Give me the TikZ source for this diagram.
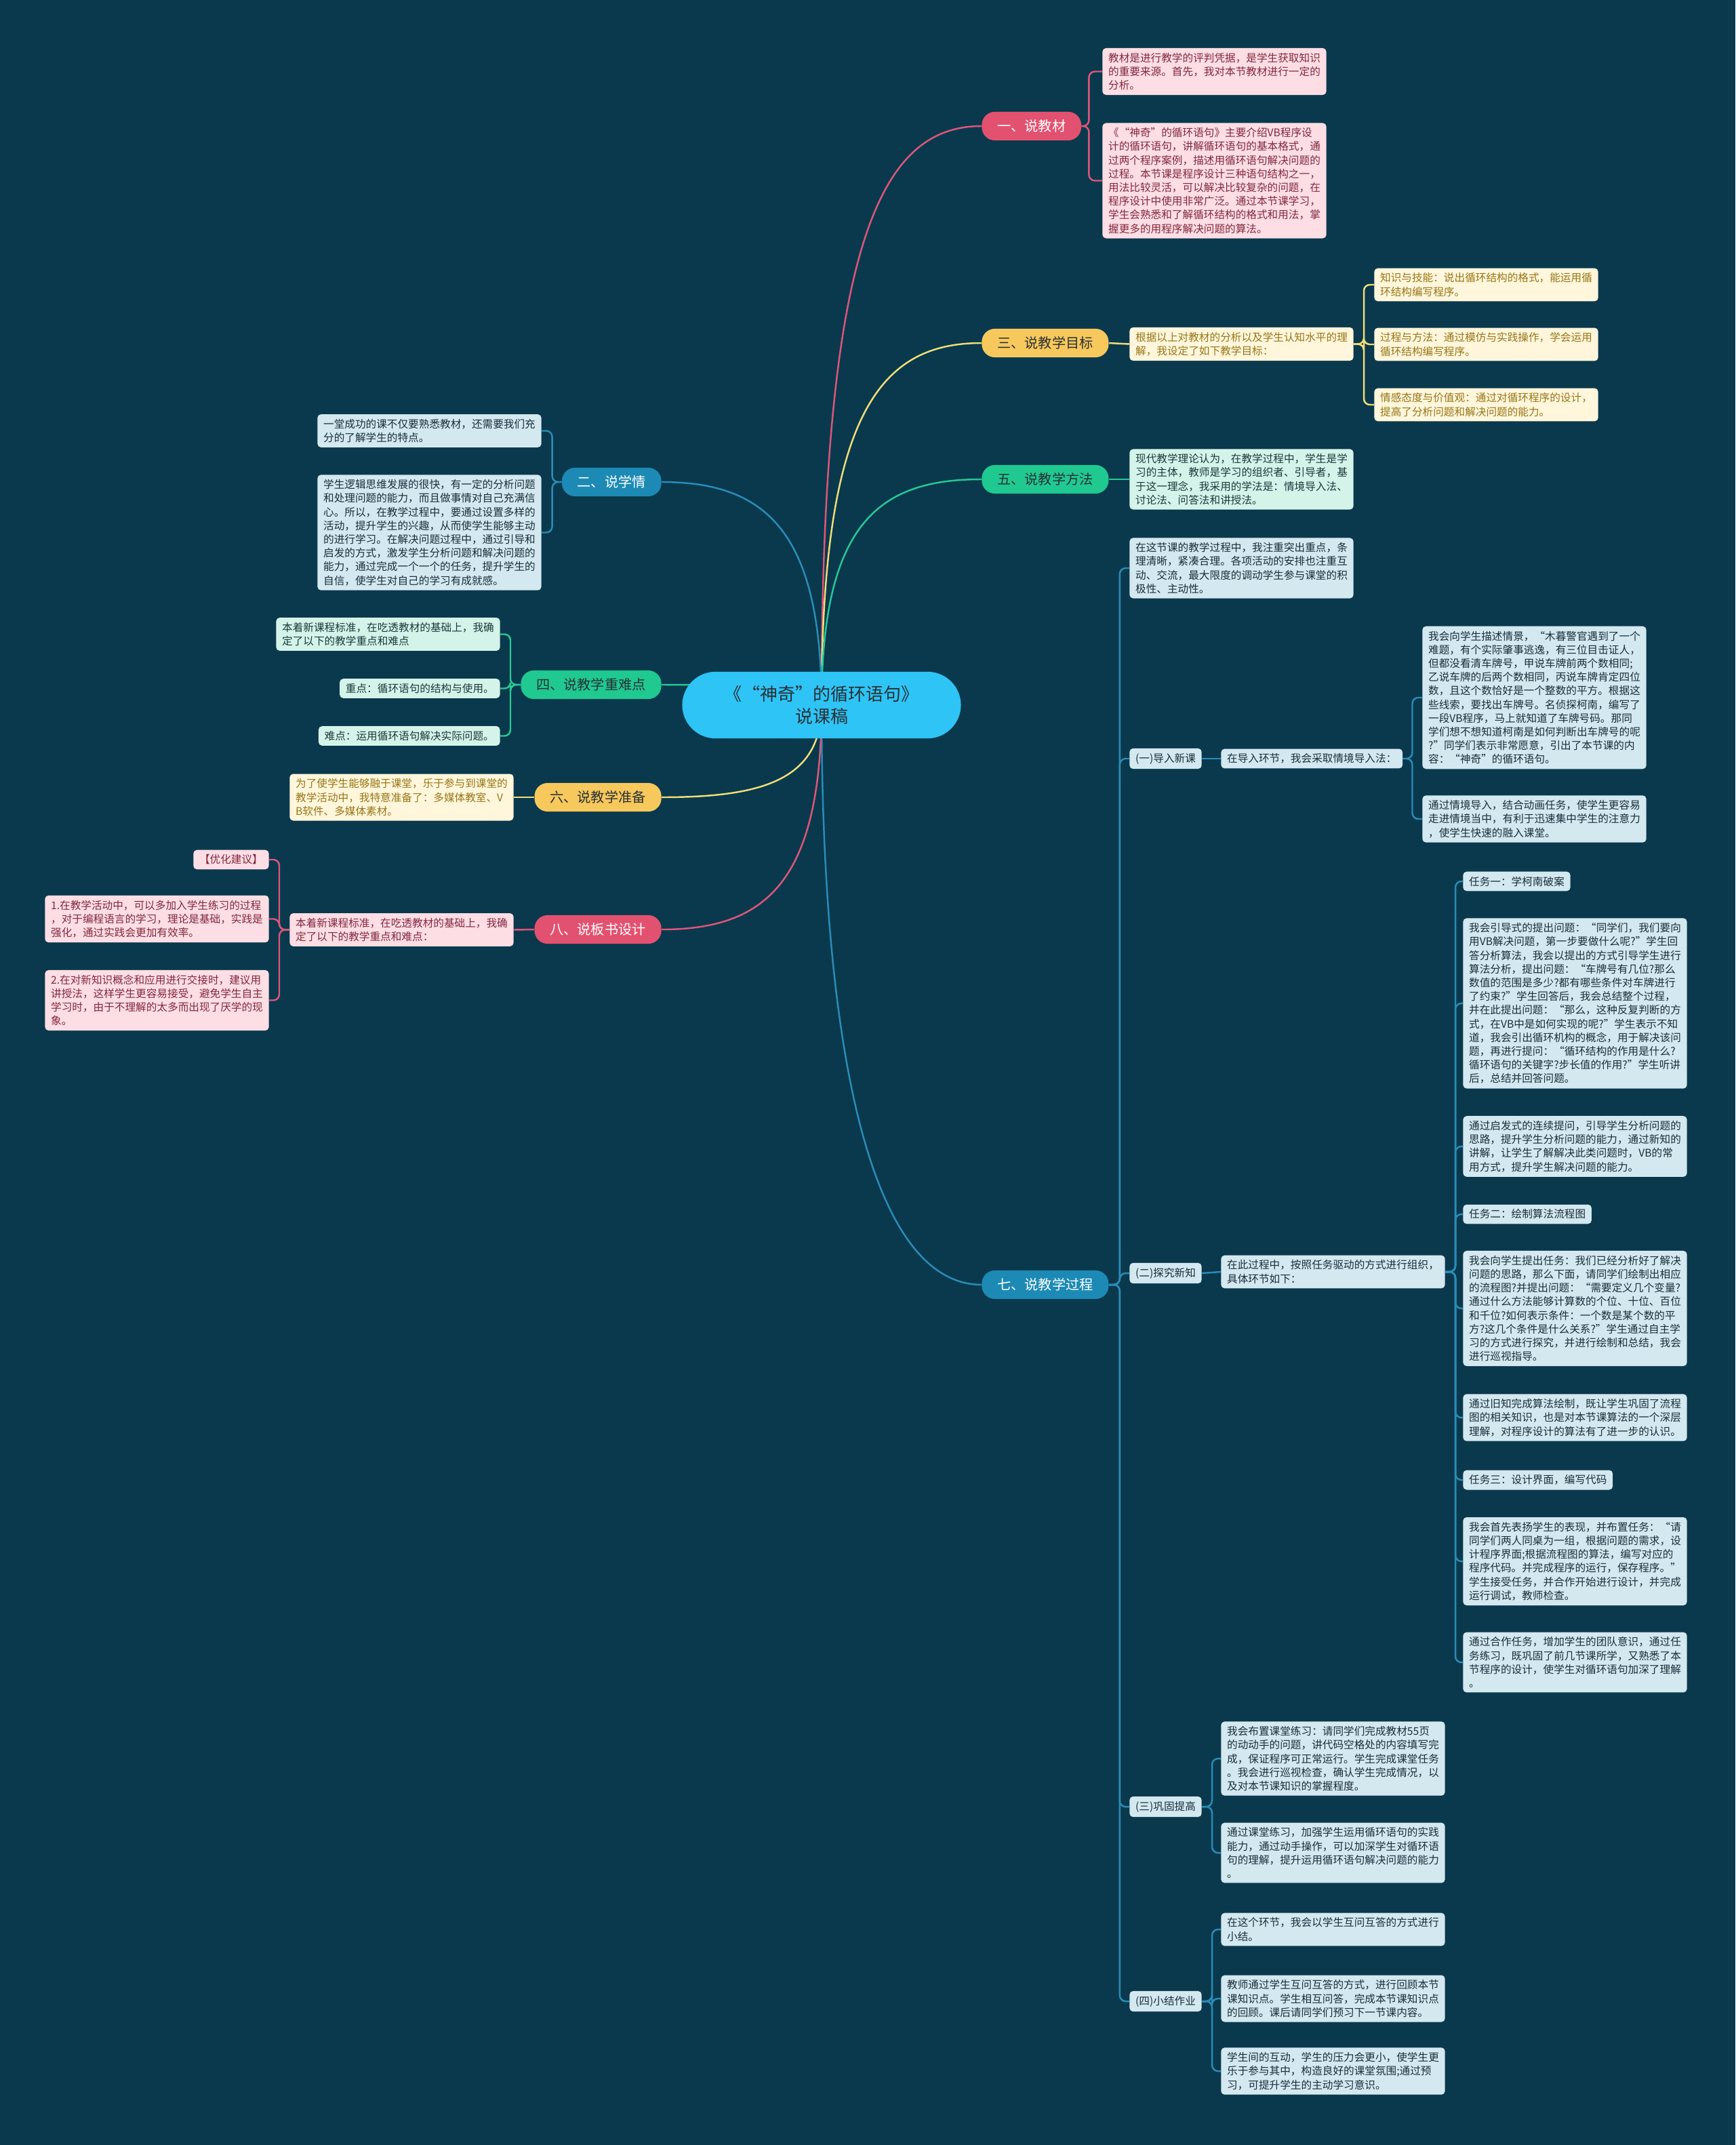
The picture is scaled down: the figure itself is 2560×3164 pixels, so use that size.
\documentclass[tikz,border=0pt]{standalone}
\usepackage{fontspec}
\newfontfamily\cjk{Noto Sans CJK SC}
\usepackage{xcolor}
\usepackage{tikz}
\usetikzlibrary{positioning}

\definecolor{bgblue}{RGB}{10,57,77}
\definecolor{hubcyan}{RGB}{46,196,245}
\definecolor{rosered}{RGB}{226,82,112}
\definecolor{sunyellow}{RGB}{247,200,92}
\definecolor{mintgreen}{RGB}{32,201,143}
\definecolor{seablue}{RGB}{28,138,181}
\definecolor{roseline}{RGB}{222,86,122}
\definecolor{sunline}{RGB}{240,222,120}
\definecolor{mintline}{RGB}{38,200,150}
\definecolor{sealine}{RGB}{42,140,184}
\definecolor{rosefill}{RGB}{252,222,228}
\definecolor{rosetext}{RGB}{130,40,62}
\definecolor{sunfill}{RGB}{255,246,220}
\definecolor{suntext}{RGB}{150,118,22}
\definecolor{mintfill}{RGB}{212,244,234}
\definecolor{minttext}{RGB}{28,56,58}
\definecolor{seafill}{RGB}{212,232,240}
\definecolor{seatext}{RGB}{26,46,58}
\definecolor{darktext}{RGB}{40,48,54}

\tikzset{
    hubnode/.style={fill=hubcyan, text=darktext, rounded corners=28pt, minimum width=234pt,
        minimum height=56pt, align=center, font=\cjk\fontsize{14.8}{18.8}\selectfont},
    branchnode/.style={rounded corners=11pt, minimum height=24pt, inner xsep=13pt,
        font=\cjk\fontsize{11.5}{14}\selectfont},
    leafbox/.style={rounded corners=3pt, inner xsep=5pt, inner ysep=4pt, align=left,
        font=\cjk\fontsize{8.9}{11.5}\selectfont},
    roseleaf/.style={leafbox, fill=rosefill, text=rosetext},
    sunleaf/.style={leafbox, fill=sunfill, text=suntext},
    mintleaf/.style={leafbox, fill=mintfill, text=minttext},
    sealeaf/.style={leafbox, fill=seafill, text=seatext},
    linkline/.style={line width=1.4pt, rounded corners=5pt},
}

\begin{document}
\begin{tikzpicture}[x=0.02cm, y=-0.02cm]
    % Background
    \fill[bgblue] (0,0) rectangle (2560,3164);
    \useasboundingbox (0,0) rectangle (2560,3164);
    \coordinate (hub) at (1212,1040);

    % Main branches, right
    \node[branchnode, fill=rosered, text=white, anchor=west] (b1) at (1448,186) {一、说教材};
    \node[branchnode, fill=sunyellow, text=darktext, anchor=west] (b3) at (1448,506) {三、说教学目标};
    \node[branchnode, fill=mintgreen, text=darktext, anchor=west] (b5) at (1448,707) {五、说教学方法};
    \node[branchnode, fill=seablue, text=white, anchor=west] (b7) at (1448,1895) {七、说教学过程};
    % Main branches, left
    \node[branchnode, fill=seablue, text=white, anchor=east] (b2) at (976,711) {二、说学情};
    \node[branchnode, fill=mintgreen, text=darktext, anchor=east] (b4) at (976,1010) {四、说教学重难点};
    \node[branchnode, fill=sunyellow, text=darktext, anchor=east] (b6) at (976,1176) {六、说教学准备};
    \node[branchnode, fill=rosered, text=white, anchor=east] (b8) at (976,1371) {八、说板书设计};

    % Curves from the hub
    \draw[roseline, line width=1.4pt] (hub) .. controls +(0,-680) and +(-150,0) .. (b1.west);
    \draw[sunline, line width=1.4pt] (hub) .. controls +(0,-430) and +(-150,0) .. (b3.west);
    \draw[mintline, line width=1.4pt] (hub) .. controls +(0,-270) and +(-150,0) .. (b5.west);
    \draw[sealine, line width=1.4pt] (hub) .. controls +(0,560) and +(-150,0) .. (b7.west);
    \draw[sealine, line width=1.4pt] (hub) .. controls +(0,-260) and +(150,0) .. (b2.east);
    \draw[mintline, line width=1.4pt] (hub) .. controls +(0,-20) and +(150,0) .. (b4.east);
    \draw[sunline, line width=1.4pt] (hub) .. controls +(0,110) and +(150,0) .. (b6.east);
    \draw[roseline, line width=1.4pt] (hub) .. controls +(0,265) and +(150,0) .. (b8.east);

    % Title
    \node[hubnode] (cen) at (hub) {《“神奇”的循环语句》\\说课稿};

    % 一
    \node[roseleaf, anchor=west] (a1) at (1626,105.5) {教材是进行教学的评判凭据，是学生获取知识\\的重要来源。首先，我对本节教材进行一定的\\分析。};
    \node[roseleaf, anchor=west] (a2) at (1626,266.5) {《“神奇”的循环语句》主要介绍VB程序设\\计的循环语句，讲解循环语句的基本格式，通\\过两个程序案例，描述用循环语句解决问题的\\过程。本节课是程序设计三种语句结构之一，\\用法比较灵活，可以解决比较复杂的问题，在\\程序设计中使用非常广泛。通过本节课学习，\\学生会熟悉和了解循环结构的格式和用法，掌\\握更多的用程序解决问题的算法。};
    \foreach \c in {a1,a2}
        \draw[linkline, roseline] (b1.east) -- ++(11,0) |- (\c.west);

    % 三
    \node[sunleaf, anchor=west] (m3) at (1666,507.5) {根据以上对教材的分析以及学生认知水平的理\\解，我设定了如下教学目标：};
    \node[sunleaf, anchor=west] (c1) at (2027,420) {知识与技能：说出循环结构的格式，能运用循\\环结构编写程序。};
    \node[sunleaf, anchor=west] (c2) at (2027,508) {过程与方法：通过模仿与实践操作，学会运用\\循环结构编写程序。};
    \node[sunleaf, anchor=west] (c3) at (2027,597) {情感态度与价值观：通过对循环程序的设计，\\提高了分析问题和解决问题的能力。};
    \draw[linkline, sunline] (b3.east) -- (m3.west);
    \foreach \c in {c1,c2,c3}
        \draw[linkline, sunline] (m3.east) -- ++(15,0) |- (\c.west);

    % 五
    \node[mintleaf, anchor=west] (d1) at (1666,707) {现代教学理论认为，在教学过程中，学生是学\\习的主体，教师是学习的组织者、引导者，基\\于这一理念，我采用的学法是：情境导入法、\\讨论法、问答法和讲授法。};
    \draw[linkline, mintline] (b5.east) -- (d1.west);

    % 七
    \node[sealeaf, anchor=west] (p1) at (1666,838) {在这节课的教学过程中，我注重突出重点，条\\理清晰，紧凑合理。各项活动的安排也注重互\\动、交流，最大限度的调动学生参与课堂的积\\极性、主动性。};
    \node[sealeaf, anchor=west] (p2) at (1666,1119) {(一)导入新课};
    \node[sealeaf, anchor=west] (p3) at (1666,1878) {(二)探究新知};
    \node[sealeaf, anchor=west] (p4) at (1666,2665) {(三)巩固提高};
    \node[sealeaf, anchor=west] (p5) at (1666,2952) {(四)小结作业};
    \foreach \c in {p1,p2,p3,p4,p5}
        \draw[linkline, sealine] (b7.east) -- ++(16,0) |- (\c.west);

    % (一)导入新课
    \node[sealeaf, anchor=west] (q2) at (1801,1119) {在导入环节，我会采取情境导入法：};
    \node[sealeaf, anchor=west] (r1) at (2098,1029) {我会向学生描述情景，“木暮警官遇到了一个\\难题，有个实际肇事逃逸，有三位目击证人，\\但都没看清车牌号，甲说车牌前两个数相同;\\乙说车牌的后两个数相同，丙说车牌肯定四位\\数，且这个数恰好是一个整数的平方。根据这\\些线索，要找出车牌号。名侦探柯南，编写了\\一段VB程序，马上就知道了车牌号码。那同\\学们想不想知道柯南是如何判断出车牌号的呢\\?”同学们表示非常愿意，引出了本节课的内\\容：“神奇”的循环语句。};
    \node[sealeaf, anchor=west] (r2) at (2098,1208) {通过情境导入，结合动画任务，使学生更容易\\走进情境当中，有利于迅速集中学生的注意力\\，使学生快速的融入课堂。};
    \draw[linkline, sealine] (p2.east) -- (q2.west);
    \foreach \c in {r1,r2}
        \draw[linkline, sealine] (q2.east) -- ++(14,0) |- (\c.west);

    % (二)探究新知
    \node[sealeaf, anchor=west] (q3) at (1801,1876) {在此过程中，按照任务驱动的方式进行组织，\\具体环节如下：};
    \node[sealeaf, anchor=west] (u1) at (2158,1300) {任务一：学柯南破案};
    \node[sealeaf, anchor=west] (u2) at (2158,1480) {我会引导式的提出问题：“同学们，我们要向\\用VB解决问题，第一步要做什么呢?”学生回\\答分析算法，我会以提出的方式引导学生进行\\算法分析，提出问题：“车牌号有几位?那么\\数值的范围是多少?都有哪些条件对车牌进行\\了约束?”学生回答后，我会总结整个过程，\\并在此提出问题：“那么，这种反复判断的方\\式，在VB中是如何实现的呢?”学生表示不知\\道，我会引出循环机构的概念，用于解决该问\\题，再进行提问：“循环结构的作用是什么?\\循环语句的关键字?步长值的作用?”学生听讲\\后，总结并回答问题。};
    \node[sealeaf, anchor=west] (u3) at (2158,1691) {通过启发式的连续提问，引导学生分析问题的\\思路，提升学生分析问题的能力，通过新知的\\讲解，让学生了解解决此类问题时，VB的常\\用方式，提升学生解决问题的能力。};
    \node[sealeaf, anchor=west] (u4) at (2158,1791) {任务二：绘制算法流程图};
    \node[sealeaf, anchor=west] (u5) at (2158,1930) {我会向学生提出任务：我们已经分析好了解决\\问题的思路，那么下面，请同学们绘制出相应\\的流程图?并提出问题：“需要定义几个变量?\\通过什么方法能够计算数的个位、十位、百位\\和千位?如何表示条件：一个数是某个数的平\\方?这几个条件是什么关系?”学生通过自主学\\习的方式进行探究，并进行绘制和总结，我会\\进行巡视指导。};
    \node[sealeaf, anchor=west] (u6) at (2158,2091) {通过旧知完成算法绘制，既让学生巩固了流程\\图的相关知识，也是对本节课算法的一个深层\\理解，对程序设计的算法有了进一步的认识。};
    \node[sealeaf, anchor=west] (u7) at (2158,2183) {任务三：设计界面，编写代码};
    \node[sealeaf, anchor=west] (u8) at (2158,2303) {我会首先表扬学生的表现，并布置任务：“请\\同学们两人同桌为一组，根据问题的需求，设\\计程序界面;根据流程图的算法，编写对应的\\程序代码。并完成程序的运行，保存程序。”\\学生接受任务，并合作开始进行设计，并完成\\运行调试，教师检查。};
    \node[sealeaf, anchor=west] (u9) at (2158,2452) {通过合作任务，增加学生的团队意识，通过任\\务练习，既巩固了前几节课所学，又熟悉了本\\节程序的设计，使学生对循环语句加深了理解\\。};
    \draw[linkline, sealine] (p3.east) -- (q3.west);
    \foreach \c in {u1,u2,u3,u4,u5,u6,u7,u8,u9}
        \draw[linkline, sealine] (q3.east) -- ++(15,0) |- (\c.west);

    % (三)巩固提高
    \node[sealeaf, anchor=west] (v1) at (1801,2594) {我会布置课堂练习：请同学们完成教材55页\\的动动手的问题，讲代码空格处的内容填写完\\成，保证程序可正常运行。学生完成课堂任务\\。我会进行巡视检查，确认学生完成情况，以\\及对本节课知识的掌握程度。};
    \node[sealeaf, anchor=west] (v2) at (1801,2733) {通过课堂练习，加强学生运用循环语句的实践\\能力，通过动手操作，可以加深学生对循环语\\句的理解，提升运用循环语句解决问题的能力\\。};
    \foreach \c in {v1,v2}
        \draw[linkline, sealine] (p4.east) -- ++(15,0) |- (\c.west);

    % (四)小结作业
    \node[sealeaf, anchor=west] (w1) at (1801,2846) {在这个环节，我会以学生互问互答的方式进行\\小结。};
    \node[sealeaf, anchor=west] (w2) at (1801,2948) {教师通过学生互问互答的方式，进行回顾本节\\课知识点。学生相互问答，完成本节课知识点\\的回顾。课后请同学们预习下一节课内容。};
    \node[sealeaf, anchor=west] (w3) at (1801,3055) {学生间的互动，学生的压力会更小，使学生更\\乐于参与其中，构造良好的课堂氛围;通过预\\习，可提升学生的主动学习意识。};
    \foreach \c in {w1,w2,w3}
        \draw[linkline, sealine] (p5.east) -- ++(15,0) |- (\c.west);

    % 二
    \node[sealeaf, anchor=east] (e1) at (799,635.5) {一堂成功的课不仅要熟悉教材，还需要我们充\\分的了解学生的特点。};
    \node[sealeaf, anchor=east] (e2) at (799,785.5) {学生逻辑思维发展的很快，有一定的分析问题\\和处理问题的能力，而且做事情对自己充满信\\心。所以，在教学过程中，要通过设置多样的\\活动，提升学生的兴趣，从而使学生能够主动\\的进行学习。在解决问题过程中，通过引导和\\启发的方式，激发学生分析问题和解决问题的\\能力，通过完成一个一个的任务，提升学生的\\自信，使学生对自己的学习有成就感。};
    \foreach \c in {e1,e2}
        \draw[linkline, sealine] (b2.west) -- ++(-14,0) |- (\c.east);

    % 四
    \node[mintleaf, anchor=east] (f1) at (738,935.5) {本着新课程标准，在吃透教材的基础上，我确\\定了以下的教学重点和难点};
    \node[mintleaf, anchor=east] (f2) at (738,1015.5) {重点：循环语句的结构与使用。};
    \node[mintleaf, anchor=east] (f3) at (738,1085.5) {难点：运用循环语句解决实际问题。};
    \foreach \c in {f1,f2,f3}
        \draw[linkline, mintline] (b4.west) -- ++(-15,0) |- (\c.east);

    % 六
    \node[sunleaf, anchor=east] (g1) at (758,1176) {为了使学生能够融于课堂，乐于参与到课堂的\\教学活动中，我特意准备了：多媒体教室、V\\B软件、多媒体素材。};
    \draw[linkline, sunline] (b6.west) -- (g1.east);

    % 八
    \node[roseleaf, anchor=east] (h0) at (758,1371.5) {本着新课程标准，在吃透教材的基础上，我确\\定了以下的教学重点和难点：};
    \node[roseleaf, anchor=east] (h1) at (397,1268) {【优化建议】};
    \node[roseleaf, anchor=east] (h2) at (397,1355.5) {1.在教学活动中，可以多加入学生练习的过程\\，对于编程语言的学习，理论是基础，实践是\\强化，通过实践会更加有效率。};
    \node[roseleaf, anchor=east] (h3) at (397,1475.5) {2.在对新知识概念和应用进行交接时，建议用\\讲授法，这样学生更容易接受，避免学生自主\\学习时，由于不理解的太多而出现了厌学的现\\象。};
    \draw[linkline, roseline] (b8.west) -- (h0.east);
    \foreach \c in {h1,h2,h3}
        \draw[linkline, roseline] (h0.west) -- ++(-15,0) |- (\c.east);
\end{tikzpicture}
\end{document}
